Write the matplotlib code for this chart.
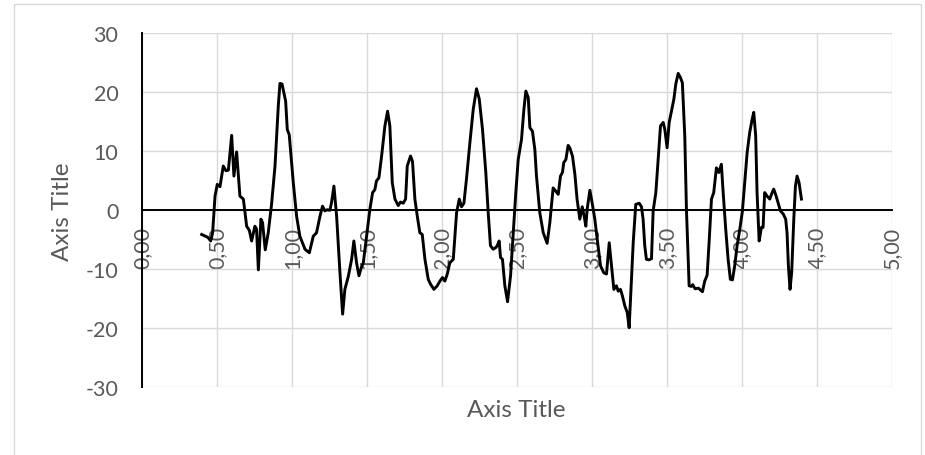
import matplotlib
matplotlib.use("Agg")
import matplotlib.pyplot as plt
from matplotlib.ticker import FixedLocator, FuncFormatter
from matplotlib.patches import Rectangle

# Measured signal (position vs. value)
x_vals = [
    0.398, 0.44, 0.458, 0.471, 0.487, 0.502, 0.52, 0.542, 0.56, 0.576, 0.598, 0.613,
    0.631, 0.653, 0.676, 0.698, 0.716, 0.731, 0.753, 0.764, 0.776, 0.793, 0.804,
    0.822, 0.842, 0.864, 0.887, 0.909, 0.92, 0.934, 0.958, 0.969, 0.982, 1.009,
    1.031, 1.053, 1.087, 1.116, 1.142, 1.164, 1.187, 1.204, 1.22, 1.236, 1.253,
    1.264, 1.28, 1.298, 1.32, 1.338, 1.353, 1.376, 1.398, 1.413, 1.431, 1.447,
    1.464, 1.476, 1.498, 1.52, 1.538, 1.553, 1.564, 1.58, 1.598, 1.62, 1.638,
    1.653, 1.669, 1.687, 1.709, 1.724, 1.742, 1.758, 1.769, 1.791, 1.804, 1.82,
    1.836, 1.853, 1.869, 1.887, 1.909, 1.924, 1.947, 1.969, 1.987, 2.004, 2.02,
    2.036, 2.053, 2.076, 2.098, 2.116, 2.131, 2.147, 2.164, 2.187, 2.209, 2.231,
    2.249, 2.271, 2.293, 2.309, 2.324, 2.342, 2.36, 2.369, 2.382, 2.391, 2.404,
    2.42, 2.438, 2.458, 2.476, 2.493, 2.509, 2.531, 2.547, 2.56, 2.576, 2.587,
    2.604, 2.62, 2.631, 2.653, 2.676, 2.702, 2.72, 2.742, 2.758, 2.776, 2.791,
    2.804, 2.813, 2.827, 2.842, 2.853, 2.871, 2.887, 2.902, 2.92, 2.936, 2.949,
    2.96, 2.969, 2.987, 3.004, 3.02, 3.036, 3.058, 3.08, 3.098, 3.116, 3.131,
    3.147, 3.164, 3.176, 3.191, 3.204, 3.22, 3.236, 3.249, 3.264, 3.276, 3.293,
    3.316, 3.331, 3.342, 3.353, 3.364, 3.382, 3.398, 3.409, 3.427, 3.442, 3.458,
    3.476, 3.487, 3.502, 3.516, 3.531, 3.547, 3.56, 3.576, 3.591, 3.604, 3.62,
    3.631, 3.649, 3.664, 3.673, 3.689, 3.711, 3.738, 3.753, 3.769, 3.782, 3.798,
    3.813, 3.831, 3.847, 3.864, 3.876, 3.893, 3.909, 3.924, 3.938, 3.953, 3.969,
    3.987, 4.004, 4.02, 4.036, 4.053, 4.069, 4.08, 4.093, 4.102, 4.116, 4.131,
    4.142, 4.153, 4.169, 4.187, 4.198, 4.213, 4.227, 4.242, 4.258, 4.276, 4.293,
    4.302, 4.311, 4.322, 4.333, 4.347, 4.358, 4.369, 4.382, 4.398,
]
y_vals = [
    -4.1, -4.6, -5.2, -3.8, 2.4, 4.4, 4.0, 7.5, 6.7, 6.8, 12.7, 5.8,
    9.9, 2.4, 1.9, -2.7, -3.4, -5.2, -2.7, -3.2, -10.1, -1.5, -2.1,
    -6.7, -3.8, 1.0, 7.5, 17.7, 21.5, 21.4, 18.5, 13.7, 12.8, 4.7,
    -1.0, -4.4, -6.6, -7.2, -4.4, -3.8, -1.0, 0.7, -0.1, 0.1, 0.0,
    1.3, 4.1, -1.0, -10.5, -17.6, -13.4, -11.2, -8.3, -5.2, -8.9, -11.1,
    -9.6, -8.9, -4.4, 0.2, 3.0, 3.5, 5.0, 5.5, 9.2, 14.3, 16.8,
    14.3, 4.7, 1.9, 0.8, 1.4, 1.2, 1.9, 7.5, 9.2, 8.3, 1.9,
    -1.0, -3.8, -4.1, -8.3, -11.7, -12.5, -13.4, -12.8, -12.0, -11.4, -12.0,
    -10.8, -8.9, -8.3, -0.4, 1.9, 0.6, 1.2, 5.3, 11.5, 17.1, 20.6,
    18.9, 13.7, 6.4, -0.4, -6.0, -6.6, -6.3, -6.0, -5.2, -8.0, -8.3,
    -12.8, -15.5, -11.1, -3.8, 3.0, 8.6, 12.0, 17.1, 20.2, 19.1, 14.0,
    13.4, 10.3, 5.8, -0.4, -3.8, -5.6, -2.1, 3.8, 3.3, 2.7, 5.8,
    6.4, 8.1, 8.6, 11.0, 10.6, 9.2, 6.1, 1.8, -1.5, 0.6, -1.0,
    -2.7, 0.2, 3.4, 1.0, -1.5, -4.9, -9.4, -10.6, -10.8, -5.5, -9.4,
    -13.4, -12.8, -13.7, -13.4, -14.5, -16.2, -17.3, -19.9, -11.7, -5.5, 1.0,
    1.2, 0.6, -1.5, -6.0, -8.3, -8.4, -8.2, -0.1, 3.0, 8.6, 14.3,
    14.9, 13.7, 10.6, 14.9, 16.8, 18.8, 21.4, 23.2, 22.5, 21.6, 12.6,
    0.2, -12.8, -12.9, -12.6, -13.3, -13.2, -13.8, -12.0, -11.0, -5.5, 1.9,
    3.0, 7.2, 6.4, 7.8, 3.0, -3.2, -8.3, -11.7, -11.8, -9.4, -6.0,
    -3.2, -0.2, 4.7, 9.8, 13.2, 15.4, 16.6, 12.6, 3.0, -5.2, -2.9,
    -2.9, 3.0, 2.4, 1.9, 2.7, 3.6, 2.6, 1.3, -0.1, -0.6, -1.5,
    -3.8, -9.4, -13.4, -10.5, -1.5, 4.1, 5.8, 4.7, 1.9,
]

x_ticks = [0.0, 0.5, 1.0, 1.5, 2.0, 2.5, 3.0, 3.5, 4.0, 4.5, 5.0]
y_ticks = [-30, -20, -10, 0, 10, 20, 30]
x_title = "Axis Title"
y_title = "Axis Title"

FONT = ["Lato", "DejaVu Sans"]
TEXT_GRAY = "#595959"
GRID_GRAY = "#d9d9d9"

fig = plt.figure(figsize=(9.25, 4.56), dpi=100)
fig.patch.set_facecolor("white")

# Outer chart frame
fig.patches.append(Rectangle((13.5 / 925, -0.05), (921 - 13.5) / 925, 1.05 - 5 / 456,
                             transform=fig.transFigure, fill=False,
                             edgecolor=GRID_GRAY, linewidth=1.0))

ax = fig.add_axes([142 / 925, 1 - 388.3 / 456, (891.7 - 142) / 925, (388.3 - 34.3) / 456])
ax.set_xlim(0, 5)
ax.set_ylim(-30, 30)

ax.plot(x_vals, y_vals, color="black", linewidth=2.1, solid_joinstyle="round", zorder=3)

ax.xaxis.set_major_locator(FixedLocator(x_ticks))
ax.yaxis.set_major_locator(FixedLocator(y_ticks))
ax.xaxis.set_major_formatter(FuncFormatter(lambda v, p: f"{v:.2f}".replace(".", ",")))
ax.yaxis.set_major_formatter(FuncFormatter(lambda v, p: f"{int(v)}"))

ax.grid(True, color=GRID_GRAY, linewidth=1.0, zorder=0)
ax.set_axisbelow(True)

for side in ("top", "right"):
    ax.spines[side].set_visible(False)
ax.spines["bottom"].set_position(("data", 0))
ax.spines["bottom"].set_color("black")
ax.spines["bottom"].set_linewidth(1.4)
ax.spines["bottom"].set_zorder(2)
ax.spines["left"].set_color("black")
ax.spines["left"].set_linewidth(1.4)

ax.tick_params(axis="x", length=0, pad=11, labelsize=15.5, labelcolor=TEXT_GRAY,
               labelrotation=90)
ax.tick_params(axis="y", length=0, pad=17, labelsize=15.5, labelcolor=TEXT_GRAY)
for lbl in ax.get_xticklabels() + ax.get_yticklabels():
    lbl.set_family(FONT)

fig.text(516 / 925, 1 - 410.5 / 456, x_title, ha="center", va="center",
         fontsize=17.5, color=TEXT_GRAY, family=FONT)
fig.text(62.5 / 925, 1 - 212 / 456, y_title, ha="center", va="center",
         rotation=90, fontsize=17.5, color=TEXT_GRAY, family=FONT)

fig.savefig("out.png", dpi=100, facecolor="white")
